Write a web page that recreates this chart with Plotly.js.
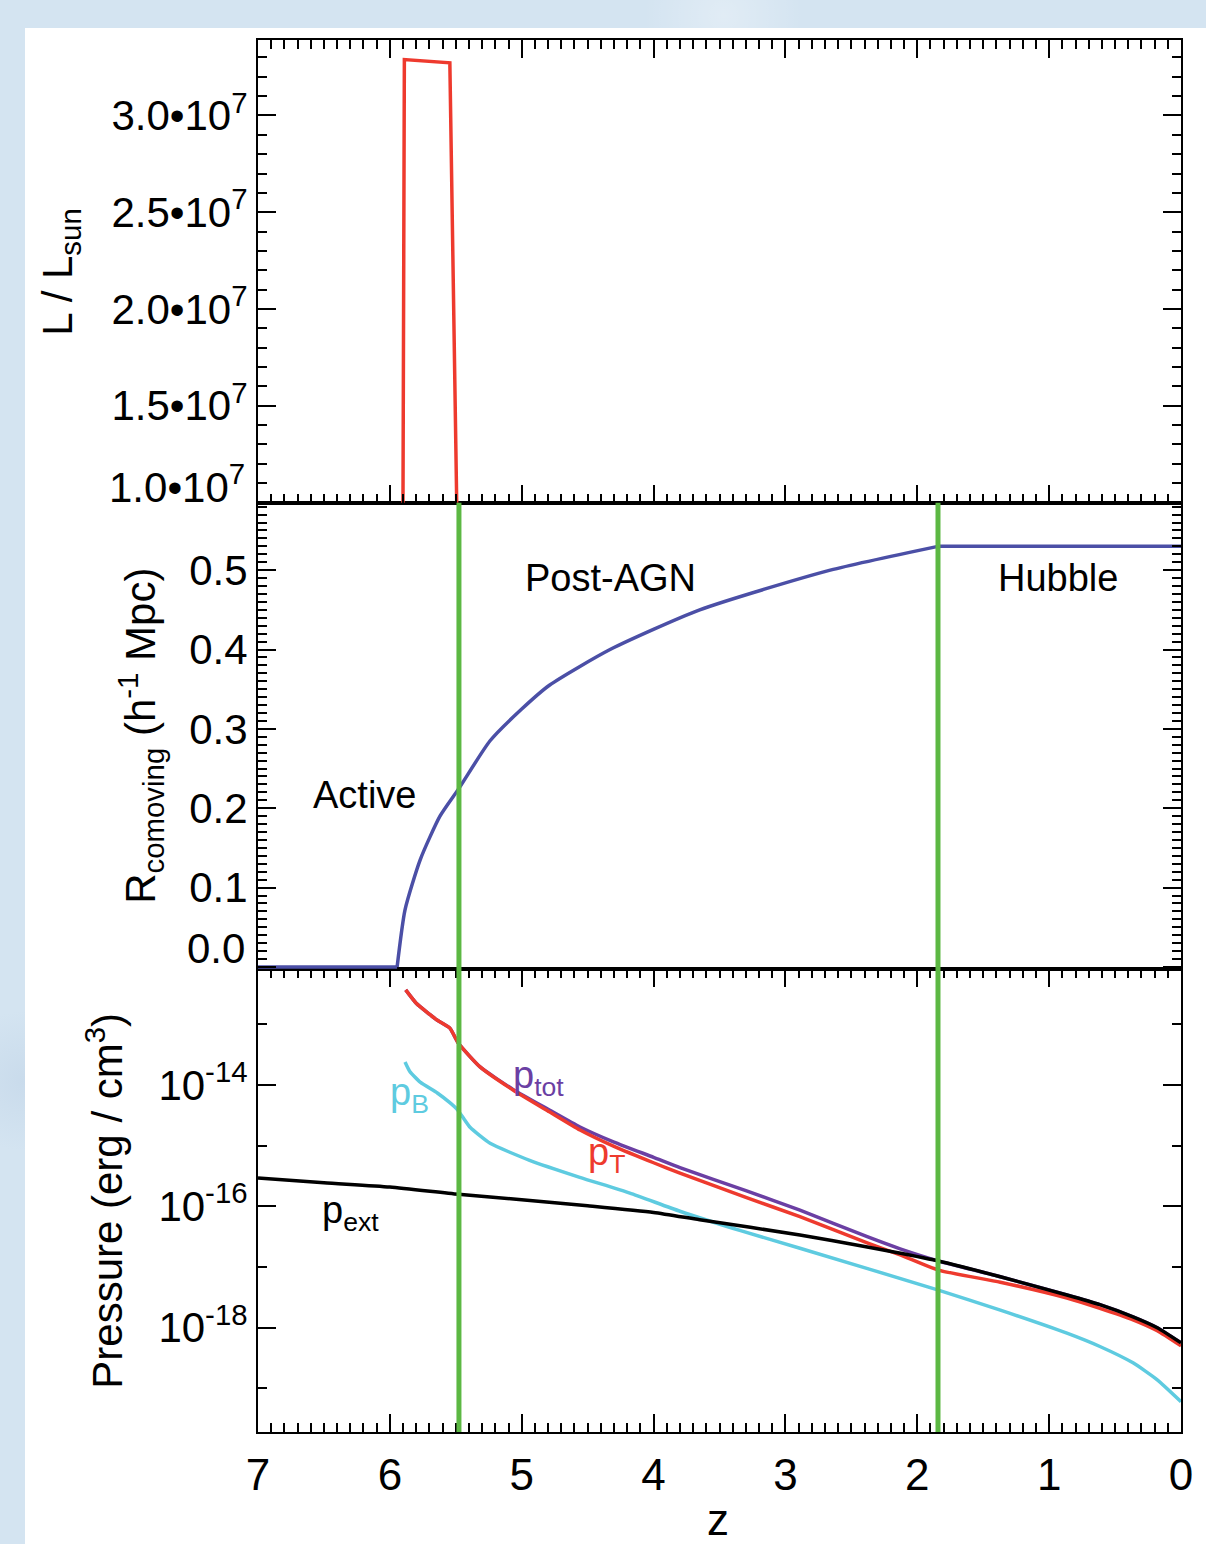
<!DOCTYPE html>
<html>
<head>
<meta charset="utf-8">
<script src="https://cdn.plot.ly/plotly-3.0.1.min.js"></script>
<style>
  html, body { margin: 0; padding: 0; }
  body {
    width: 1206px; height: 1544px; position: relative; overflow: hidden;
    background-color: #d4e4f1;
    background-image:
      radial-gradient(circle at 10% 20%, rgba(255,255,255,0.35) 0, rgba(255,255,255,0) 60px),
      radial-gradient(circle at 60% 1%, rgba(255,255,255,0.3) 0, rgba(255,255,255,0) 80px),
      radial-gradient(circle at 2% 70%, rgba(190,210,230,0.5) 0, rgba(190,210,230,0) 70px);
  }
  #sheet { position: absolute; left: 25px; top: 28px; width: 1181px; height: 1516px; background: #ffffff; }
  #chart { position: absolute; left: 0; top: 0; width: 1206px; height: 1544px; }
</style>
</head>
<body>
<div id="sheet"></div>
<div id="chart"></div>
<script>
// ---------- data ----------
// Top panel: luminosity
const zLum = [7.0, 5.905, 5.89, 5.545, 5.47, 0.0];
const lumSun = [0, 0, 3.289e7, 3.272e7, 0, 0];

// Middle panel: comoving radius (h^-1 Mpc)
const zRad = [7.0, 5.945, 5.885, 5.77, 5.62, 5.476, 5.24, 5.0, 4.79, 4.33, 3.65, 2.66, 1.843, 0.0];
const radius = [0.0, 0.0, 0.072, 0.135, 0.19, 0.225, 0.285, 0.325, 0.355, 0.40, 0.45, 0.50, 0.53, 0.53];
const radRiseStart = 1, radRiseEnd = 12; // Active/Post-AGN growth between these indices

// Bottom panel: pressures, given as log10(p / erg cm^-3)
const zTot = [5.88, 5.80, 5.70, 5.64, 5.545, 5.48, 5.316, 5.066, 4.79, 4.558, 4.30, 4.00, 3.80, 3.30, 2.89, 2.38, 2.13, 1.84, 1.37, 0.865, 0.615, 0.364, 0.18, 0.0];
const logPtot = [-12.43, -12.65, -12.83, -12.93, -13.06, -13.31, -13.70, -14.07, -14.41, -14.69, -14.94, -15.19, -15.36, -15.74, -16.06, -16.50, -16.70, -16.90, -17.16, -17.46, -17.62, -17.82, -18.00, -18.25];

const zT = [5.88, 5.80, 5.70, 5.64, 5.545, 5.48, 5.316, 5.066, 4.79, 4.558, 4.30, 4.00, 3.80, 3.30, 2.89, 2.38, 2.13, 1.84, 1.37, 0.865, 0.615, 0.364, 0.18, 0.0];
const logPT = [-12.43, -12.65, -12.83, -12.93, -13.06, -13.31, -13.70, -14.08, -14.44, -14.74, -15.01, -15.28, -15.45, -15.85, -16.17, -16.60, -16.80, -17.05, -17.25, -17.51, -17.68, -17.87, -18.05, -18.30];

const zB = [5.885, 5.85, 5.77, 5.64, 5.545, 5.49, 5.44, 5.39, 5.24, 4.94, 4.56, 4.18, 3.80, 3.34, 2.89, 1.84, 1.37, 0.865, 0.615, 0.364, 0.18, 0.0];
const logPB = [-13.62, -13.77, -13.95, -14.13, -14.29, -14.40, -14.55, -14.70, -14.96, -15.24, -15.52, -15.78, -16.08, -16.40, -16.69, -17.38, -17.71, -18.09, -18.31, -18.58, -18.86, -19.22];

const zExt = [7.0, 6.5, 6.0, 5.48, 5.0, 4.5, 4.0, 3.65, 2.89, 2.40, 1.88, 1.37, 0.865, 0.615, 0.364, 0.18, 0.0];
const logPext = [-15.53, -15.61, -15.68, -15.80, -15.89, -15.99, -16.10, -16.22, -16.47, -16.66, -16.88, -17.16, -17.46, -17.62, -17.82, -18.00, -18.25];

// Phase boundaries (redshift)
const phaseBoundaries = [5.476, 1.843];

// Tick labels
const xTickVals = [7, 6, 5, 4, 3, 2, 1, 0];
const xTickText = ['7', '6', '5', '4', '3', '2', '1', '0'];
const lumTickVals = [1.0e7, 1.5e7, 2.0e7, 2.5e7, 3.0e7];
const lumTickText = ['1.0\u202210<sup>7</sup>', '1.5\u202210<sup>7</sup>', '2.0\u202210<sup>7</sup>', '2.5\u202210<sup>7</sup>', '3.0\u202210<sup>7</sup>'];
const radTickVals = [0, 0.1, 0.2, 0.3, 0.4, 0.5];
const radTickText = ['0.0', '0.1', '0.2', '0.3', '0.4', '0.5'];
const pTickVals = [1e-18, 1e-16, 1e-14];
const pTickText = ['10<sup>-18</sup>', '10<sup>-16</sup>', '10<sup>-14</sup>'];
const pMinorVals = [1e-19, 1e-17, 1e-15, 1e-13];

// ---------- styling ----------
const FONT = 'Liberation Sans, Arial, Helvetica, sans-serif';
const toP = arr => arr.map(v => Math.pow(10, v));
const LW = 3.5;
const smooth = (color, s) => ({color: color, width: LW, shape: 'spline', smoothing: s});
const lin = (color) => ({color: color, width: LW});
const BLUE = '#4b4fa6';

const traces = [
  {x: zLum, y: lumSun, xaxis: 'x3', yaxis: 'y3', mode: 'lines', line: lin('#ee3a2e'), hoverinfo: 'skip'},
  {x: zRad.slice(0, radRiseStart + 1), y: radius.slice(0, radRiseStart + 1), xaxis: 'x2', yaxis: 'y2', mode: 'lines', line: lin(BLUE), hoverinfo: 'skip'},
  {x: zRad.slice(radRiseStart, radRiseEnd + 1), y: radius.slice(radRiseStart, radRiseEnd + 1), xaxis: 'x2', yaxis: 'y2', mode: 'lines', line: smooth(BLUE, 0.6), hoverinfo: 'skip'},
  {x: zRad.slice(radRiseEnd), y: radius.slice(radRiseEnd), xaxis: 'x2', yaxis: 'y2', mode: 'lines', line: lin(BLUE), hoverinfo: 'skip'},
  {x: zTot, y: toP(logPtot), xaxis: 'x', yaxis: 'y', mode: 'lines', line: smooth('#6b3fa3', 0.5), hoverinfo: 'skip'},
  {x: zT, y: toP(logPT), xaxis: 'x', yaxis: 'y', mode: 'lines', line: smooth('#ee3a2e', 0.5), hoverinfo: 'skip'},
  {x: zB, y: toP(logPB), xaxis: 'x', yaxis: 'y', mode: 'lines', line: smooth('#5ecbe0', 0.5), hoverinfo: 'skip'},
  {x: zExt, y: toP(logPext), xaxis: 'x', yaxis: 'y', mode: 'lines', line: smooth('#000000', 0.6), hoverinfo: 'skip'}
];

const dBot = [0, 0.3324];
const dMid = [0.3324, 0.6676];
const dTop = [0.6676, 1];

const baseX = {
  range: [7, 0], autorange: false, showgrid: false, zeroline: false,
  showline: true, linewidth: 2, linecolor: '#000',
  tickvals: xTickVals, ticktext: xTickText,
  ticks: 'inside', ticklen: 18, tickwidth: 2, tickcolor: '#000',
  minor: {dtick: 0.1, tick0: 0, ticks: 'inside', ticklen: 9, tickwidth: 2, tickcolor: '#000', showgrid: false},
  mirror: 'ticks'
};
const baseY = {
  showgrid: false, zeroline: false, showline: true, linewidth: 2, linecolor: '#000',
  ticks: 'inside', ticklen: 18, tickwidth: 2, tickcolor: '#000', mirror: 'ticks',
  tickfont: {family: FONT, size: 42, color: '#000'}
};

const shapes = phaseBoundaries.map(zb => ({
  type: 'line', xref: 'x', yref: 'paper', x0: zb, x1: zb, y0: 0, y1: dMid[1],
  line: {color: '#5cb843', width: 5}, layer: 'above'
}));

const ann = (text, x, y, opts) => Object.assign({
  text: text, x: x, y: y, showarrow: false,
  font: {family: FONT, size: 38, color: '#000'}, xanchor: 'center', yanchor: 'middle'
}, opts || {});

// The lowest labels of the top and middle panels sit a little above their ticks (as in the original),
// so they are drawn as text labels instead of tick labels.
const lumTickTextShown = lumTickText.map((t, i) => i === 0 ? '' : t);
const radTickTextShown = radTickText.map((t, i) => i === 0 ? '' : t);

const annotations = [
  // axis titles
  ann('L / L<sub>sun</sub>', -0.214, 0.8338, {xref: 'paper', yref: 'paper', textangle: -90, font: {family: FONT, size: 42, color: '#000'}}),
  ann('R<sub>comoving</sub> (h<sup>-1</sup> Mpc)', -0.128, 0.5, {xref: 'paper', yref: 'paper', textangle: -90, font: {family: FONT, size: 42, color: '#000'}}),
  ann('Pressure (erg / cm<sup>3</sup>)', -0.166, 0.166, {xref: 'paper', yref: 'paper', textangle: -90, font: {family: FONT, size: 42, color: '#000'}}),
  ann('z', 0.4984, -0.0625, {xref: 'paper', yref: 'paper', font: {family: FONT, size: 44, color: '#000'}}),
  // shifted lowest tick labels
  ann(lumTickText[0], -0.012, 0.681, {xref: 'paper', yref: 'paper', xanchor: 'right', font: {family: FONT, size: 42, color: '#000'}}),
  ann(radTickText[0], -0.012, 0.3477, {xref: 'paper', yref: 'paper', xanchor: 'right', font: {family: FONT, size: 42, color: '#000'}}),
  // phase labels
  ann('Post-AGN', 4.33, 0.49, {xref: 'x2', yref: 'y2'}),
  ann('Hubble', 0.93, 0.49, {xref: 'x2', yref: 'y2'}),
  ann('Active', 6.19, 0.217, {xref: 'x2', yref: 'y2'}),
  // curve labels (log axis: y in log10 units)
  ann('p<sub>tot</sub>', 4.87, -13.88, {xref: 'x', yref: 'y', font: {family: FONT, size: 38, color: '#6b3fa3'}}),
  ann('p<sub>B</sub>', 5.85, -14.16, {xref: 'x', yref: 'y', font: {family: FONT, size: 38, color: '#5ecbe0'}}),
  ann('p<sub>T</sub>', 4.36, -15.15, {xref: 'x', yref: 'y', font: {family: FONT, size: 38, color: '#ee3a2e'}}),
  ann('p<sub>ext</sub>', 6.30, -16.11, {xref: 'x', yref: 'y', font: {family: FONT, size: 38, color: '#000'}})
];

const layout = {
  width: 1206, height: 1544,
  margin: {l: 258, r: 25, t: 40, b: 112, pad: 0},
  paper_bgcolor: 'rgba(0,0,0,0)', plot_bgcolor: '#ffffff',
  showlegend: false,
  font: {family: FONT, color: '#000'},
  xaxis: Object.assign({}, baseX, {anchor: 'y', domain: [0, 1], showticklabels: true,
    tickfont: {family: FONT, size: 44, color: '#000'}, ticklabelstandoff: 3}),
  xaxis2: Object.assign({}, baseX, {anchor: 'y2', domain: [0, 1], matches: 'x', showticklabels: false, ticks: '',
    minor: {ticks: '', showgrid: false}, mirror: true}),
  xaxis3: Object.assign({}, baseX, {anchor: 'y3', domain: [0, 1], matches: 'x', showticklabels: false}),
  yaxis: Object.assign({}, baseY, {anchor: 'x', domain: dBot, type: 'log', range: [-19.72, -12.09],
    tickmode: 'array', tickvals: pTickVals, ticktext: pTickText,
    minor: {tickmode: 'array', tickvals: pMinorVals, ticks: 'inside', ticklen: 9, tickwidth: 2, tickcolor: '#000', showgrid: false}}),
  yaxis2: Object.assign({}, baseY, {anchor: 'x2', domain: dMid, range: [-0.003, 0.585],
    tickmode: 'array', tickvals: radTickVals, ticktext: radTickTextShown,
    minor: {dtick: 0.01, tick0: 0, ticks: 'inside', ticklen: 9, tickwidth: 2, tickcolor: '#000', showgrid: false}}),
  yaxis3: Object.assign({}, baseY, {anchor: 'x3', domain: dTop, range: [0.999e7, 3.39e7],
    tickmode: 'array', tickvals: lumTickVals, ticktext: lumTickTextShown,
    minor: {dtick: 1e6, tick0: 0, ticks: 'inside', ticklen: 9, tickwidth: 2, tickcolor: '#000', showgrid: false}}),
  shapes: shapes,
  annotations: annotations
};

Plotly.newPlot('chart', traces, layout, {staticPlot: true, displayModeBar: false});
</script>
</body>
</html>
